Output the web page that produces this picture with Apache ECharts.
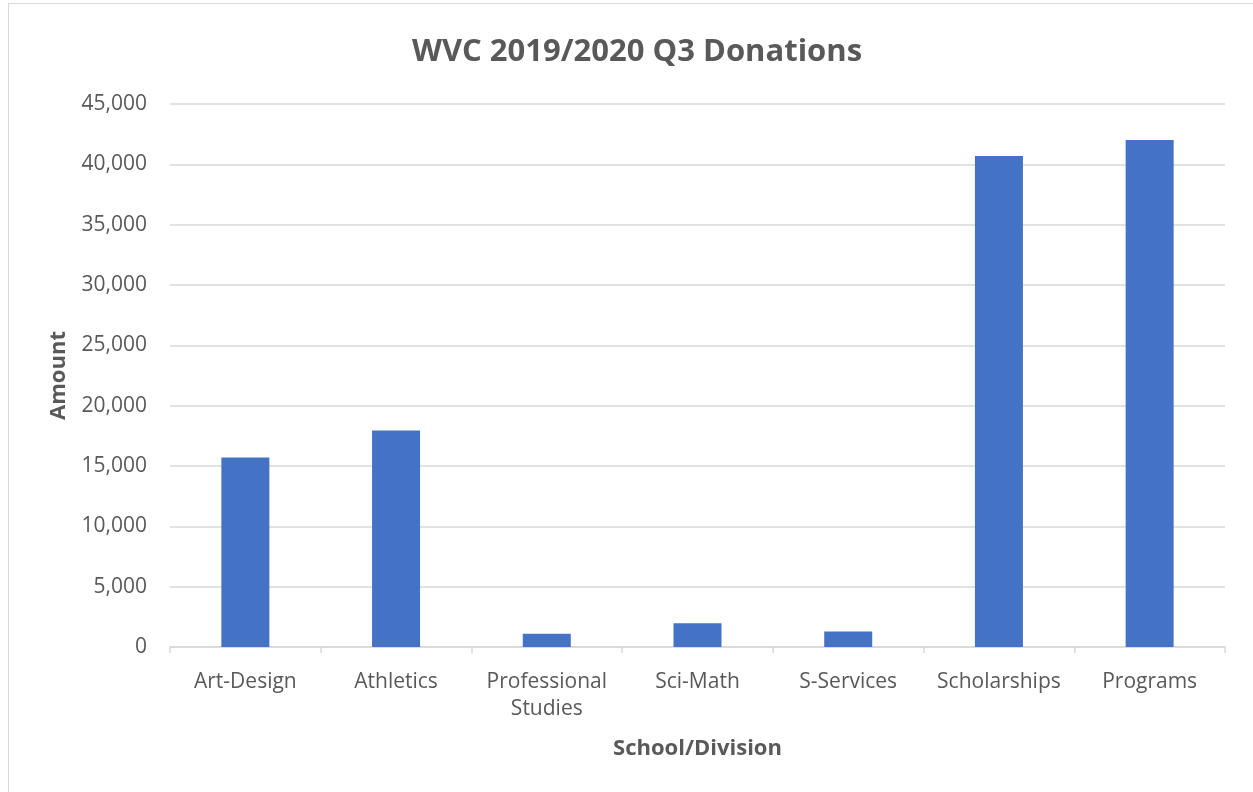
<!DOCTYPE html>
<html><head><meta charset="utf-8">
<script src="https://cdn.jsdelivr.net/npm/echarts@6/dist/echarts.min.js"></script>
<style>
html,body{margin:0;padding:0;background:#fff;}
#frame{position:absolute;left:8px;top:3px;width:1300px;height:850px;border:1px solid #d9d9d9;box-sizing:border-box;}
#c{position:absolute;left:0;top:0;width:1253px;height:792px;}
</style></head>
<body>
<div id="frame"></div>
<div id="c"></div>
<script>
const categories = ["Art-Design","Athletics","Professional\nStudies","Sci-Math","S-Services","Scholarships","Programs"];
const amounts = [15700, 17950, 1100, 1960, 1280, 40690, 42010];
const yTicks = {min:0, max:45000, interval:5000};
const FONT = "Open Sans";
const chart = echarts.init(document.getElementById('c'));
chart.setOption({
  animation:false,
  textStyle:{fontFamily:FONT},
  title:{text:"WVC 2019/2020 Q3 Donations", left:632, top:32, textAlign:'center',
    textStyle:{fontFamily:FONT, fontSize:31, fontWeight:'bold', color:'#595959'}},
  grid:{left:170, right:28, top:104, bottom:145, containLabel:false},
  xAxis:{type:'category', data:categories, name:'School/Division', nameLocation:'middle', nameGap:91,
    nameTextStyle:{fontFamily:FONT, fontSize:22, fontWeight:'bold', color:'#595959'},
    axisLine:{lineStyle:{color:'#d9d9d9', width:1.5}},
    axisTick:{show:true, length:6, lineStyle:{color:'#d9d9d9', width:1.5}},
    axisLabel:{fontFamily:FONT, fontSize:21, color:'#595959', margin:22, lineHeight:27, interval:0}},
  yAxis:{type:'value', min:yTicks.min, max:yTicks.max, interval:yTicks.interval,
    name:'Amount', nameLocation:'middle', nameGap:100, nameRotate:90,
    nameTextStyle:{fontFamily:FONT, fontSize:22, fontWeight:'bold', color:'#595959'},
    axisLine:{show:false}, axisTick:{show:false},
    axisLabel:{fontFamily:FONT, fontSize:21, color:'#595959', margin:23,
      formatter:v=>v.toLocaleString('en-US')},
    splitLine:{lineStyle:{color:'#d9d9d9', width:1.5}}},
  series:[{type:'bar', data:amounts, barWidth:48, itemStyle:{color:'#4472c4'}}]
});
</script>
</body></html>
